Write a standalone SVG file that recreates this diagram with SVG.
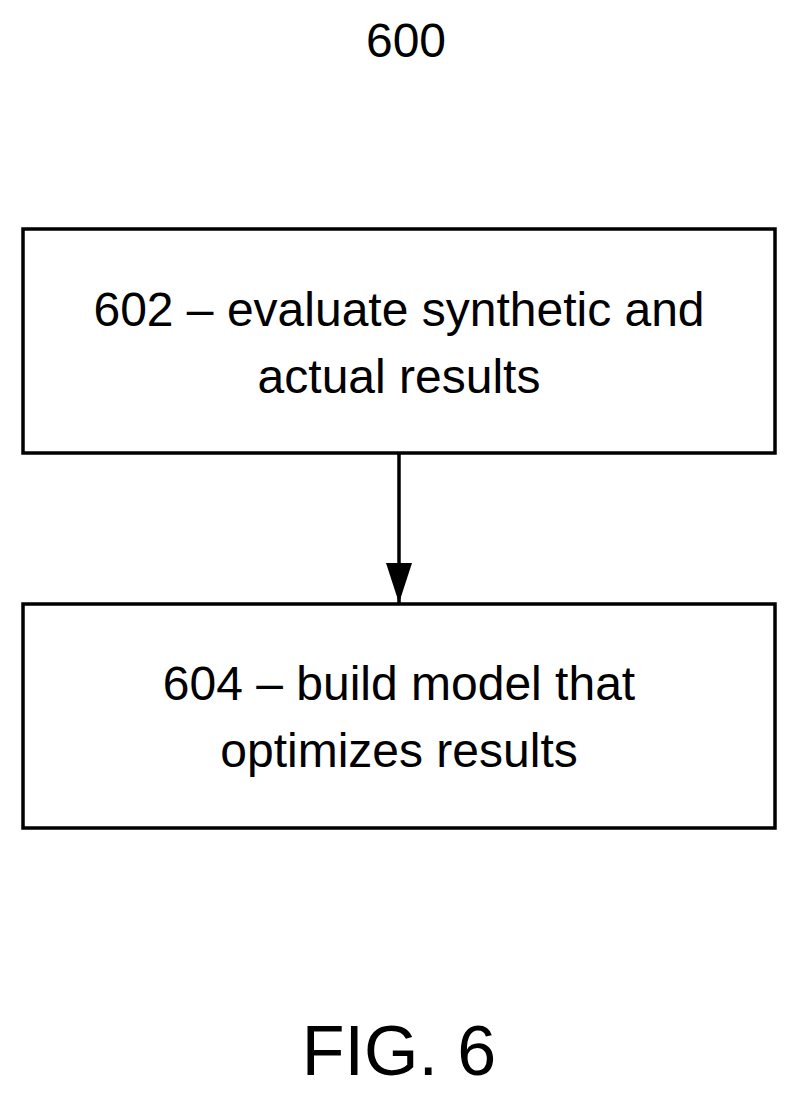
<svg xmlns="http://www.w3.org/2000/svg" width="796" height="1098" viewBox="0 0 796 1098">
<style>
.box{fill:#fff;stroke:#000;stroke-width:3.5}
.t{font-family:"Liberation Sans",Arial,sans-serif;font-size:48px;text-anchor:middle;fill:#000}
</style>
<defs><marker id="ah" markerWidth="42" markerHeight="26" refX="40" refY="13" orient="auto" markerUnits="userSpaceOnUse" viewBox="0 0 42 26"><path d="M0,0 L40,13 L0,26 Z" fill="#000"/></marker></defs>
<rect width="796" height="1098" fill="#fff"/>
<text x="406" y="57" class="t" style="font-size:48px">600</text>
<g id="n602"><rect class="box" x="23" y="229" width="752" height="224"/>
<text class="t" x="399" y="326">602 – evaluate synthetic and</text>
<text class="t" x="399" y="393">actual results</text></g>
<g id="n604"><rect class="box" x="23" y="604" width="752" height="224"/>
<text class="t" x="399" y="700">604 – build model that</text>
<text class="t" x="399" y="767">optimizes results</text></g>
<g id="connectors"><line x1="399" y1="453" x2="399" y2="603" stroke="#000" stroke-width="3.5" marker-end="url(#ah)"/></g>
<text x="399" y="1075" class="t" style="font-size:70px">FIG. 6</text>
</svg>
